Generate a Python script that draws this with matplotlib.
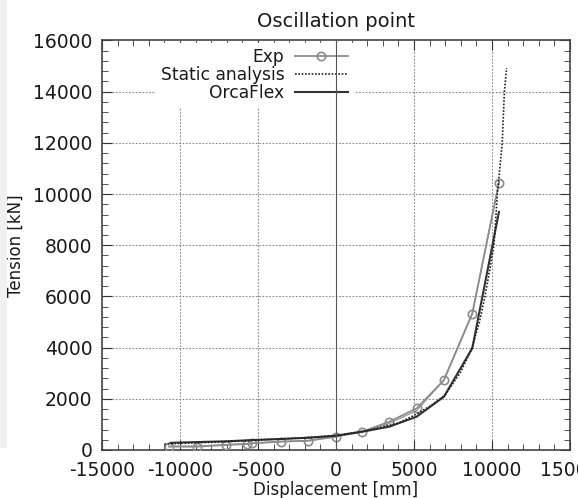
import matplotlib
matplotlib.use("Agg")
import matplotlib.pyplot as plt
from matplotlib.ticker import AutoMinorLocator
from matplotlib.patches import Rectangle

plt.rcParams['font.family'] = ['DejaVu Sans']
plt.rcParams['axes.unicode_minus'] = False

# Experimental data
exp_disp = [-10700, -8890, -7070, -5690, -5370, -3545, -1780, 0, 1690, 3400, 5170, 6920, 8740, 10450]
exp_tension = [130, 130, 195, 235, 260, 325, 360, 520, 714, 1100, 1625, 2730, 5330, 10450]
exp2_tension = [150, 150, 210, 250, 270, 330, 370, 540, 730, 1030, 1540, 2730, 5330, 10450]

# Static analysis
static_disp = [-11000, -10000, -8000, -6000, -4000, -2000, 0, 2000, 4000, 5000, 6000,
               7000, 8000, 8700, 9200, 9550, 9850, 10130, 10350, 10660, 10800, 10940]
static_tension = [230, 260, 300, 350, 420, 480, 560, 760, 1050, 1350, 1700,
                  2150, 3050, 3950, 5000, 6000, 7000, 8000, 10000, 12000, 14000, 14925]

# OrcaFlex
orca_disp = [-10600, -8900, -7000, -5300, -3500, -1750, 0, 1690, 3400, 5170, 6920, 8740, 10450]
orca_tension = [280, 310, 340, 390, 430, 480, 560, 714, 910, 1300, 2080, 3975, 9300]

xticks = [-15000, -10000, -5000, 0, 5000, 10000, 15000]
yticks = [0, 2000, 4000, 6000, 8000, 10000, 12000, 14000, 16000]

fig = plt.figure(figsize=(5.78, 4.98), dpi=100)
fig.patches.append(Rectangle((0, 0.1), 7 / 578, 0.9, transform=fig.transFigure,
                             facecolor='#f0f0f0', edgecolor='none', zorder=0))
ax = fig.add_axes([0.1765, 0.0964, 0.8095, 0.8223])

ax.set_xlim(-15000, 15000)
ax.set_ylim(0, 16000)
ax.set_xticks(xticks)
ax.set_yticks(yticks)
ax.set_xticklabels([str(v) for v in xticks])
ax.set_yticklabels([str(v) for v in yticks])
ax.xaxis.set_minor_locator(AutoMinorLocator(5))
ax.yaxis.set_minor_locator(AutoMinorLocator(5))
ax.tick_params(which='both', direction='in', top=True, right=True, colors='#333333',
               labelcolor='#1a1a1a', labelsize=13.5)
ax.tick_params(which='major', length=7)
ax.tick_params(which='minor', length=4)
ax.tick_params(axis='x', which='major', pad=8)
ax.tick_params(axis='y', which='major', pad=7)

for v in xticks[1:-1]:
    if v == 0:
        ax.axvline(v, color='#555555', lw=0.8, zorder=11)
    else:
        ax.axvline(v, color='#888888', lw=0.8, ls=(0, (1.5, 1.5)), zorder=1)
for v in yticks[1:-1]:
    ax.axhline(v, color='#888888', lw=0.8, ls=(0, (1.5, 1.5)), zorder=1)

for s in ax.spines.values():
    s.set_color('#444444')
    s.set_linewidth(1.2)

ax.plot(exp_disp, exp2_tension, color='#a0a0a0', lw=1.0, zorder=3)
ax.plot(exp_disp, exp_tension, color='#8c8c8c', lw=1.3, marker='o', ms=6,
        mfc='none', mec='#8c8c8c', mew=1.2, label='Exp', zorder=4)
ax.plot(static_disp, static_tension, color='#222222', lw=1.2, ls=(0, (1, 1)),
        label='Static analysis', zorder=5)
ax.plot(orca_disp, orca_tension, color='#333333', lw=1.5, label='OrcaFlex', zorder=4)

leg = ax.legend(loc='upper right', bbox_to_anchor=(0.536, 0.995), markerfirst=False,
                fontsize=12.3, frameon=True, fancybox=False, handlelength=3.1,
                handletextpad=0.6, labelspacing=0.0, borderpad=0.3,
                borderaxespad=0.0)
leg.get_frame().set_facecolor('white')
leg.get_frame().set_edgecolor('white')
leg.get_frame().set_alpha(1.0)
leg.set_zorder(10)
for t in leg.get_texts():
    t.set_ha('right')
    t.set_color('#1a1a1a')

ax.set_title('Oscillation point', fontsize=14, pad=10, color='#1a1a1a')
ax.set_xlabel('Displacement [mm]', fontsize=12, labelpad=1, color='#1a1a1a')
ax.set_ylabel('Tension [kN]', fontsize=12, labelpad=6, color='#1a1a1a')

fig.savefig('out.png', dpi=100)
